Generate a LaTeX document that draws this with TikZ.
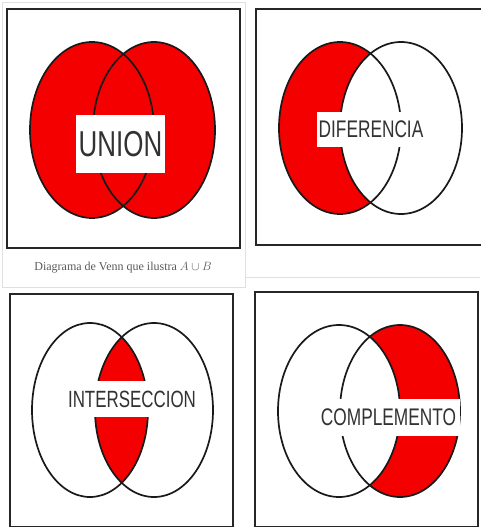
\documentclass[tikz,border=0pt]{standalone}
\usepackage{fontspec}
\newfontfamily\condsans[FakeStretch=0.72]{Liberation Sans}
\setmainfont{Liberation Serif}
\definecolor{vred}{RGB}{245,0,0}
\definecolor{labgray}{RGB}{50,50,50}
\definecolor{capgray}{RGB}{90,90,90}
\tikzset{
  frame/.style={draw=black!85, line width=2.8pt},
  setline/.style={draw=black!90, line width=1.7pt},
  labelbox/.style={fill=white, inner sep=0pt, text=labgray, font=\condsans},
  faint/.style={draw=black!12, line width=0.8pt}
}
\begin{document}
\begin{tikzpicture}[x=1pt,y=-1pt]
\useasboundingbox (0,0) rectangle (480,527);
\fill[white] (0,0) rectangle (480,527);

% faint image borders
\draw[faint] (2,2) rectangle (245,287);
\draw[faint] (245,2) -- (245,277) -- (480,277);

% ---------- Panel 1: UNION ----------
\draw[frame] (7,9) rectangle (240,248);
\fill[vred] (92,130) ellipse [x radius=62pt, y radius=88pt];
\fill[vred] (154,130) ellipse [x radius=61pt, y radius=88pt];
\draw[setline] (92,130) ellipse [x radius=62pt, y radius=88pt];
\draw[setline] (154,130) ellipse [x radius=61pt, y radius=88pt];
\node[labelbox, minimum width=89pt, minimum height=58pt, font=\condsans\fontsize{36}{36}\selectfont] (union) at (120.5,144) {UNION};
\node[text=capgray, inner sep=0pt, font=\fontsize{12}{14}\selectfont] (cap) at (123,268) {Diagrama de Venn que ilustra \large$A\cup B$};

% ---------- Panel 2: DIFERENCIA ----------
\draw[frame] (256,9) rectangle (490,245);
\fill[vred] (340,128) ellipse [x radius=61pt, y radius=86pt];
\fill[white] (401,128) ellipse [x radius=61pt, y radius=86pt];
\draw[setline] (340,128) ellipse [x radius=61pt, y radius=86pt];
\draw[setline] (401,128) ellipse [x radius=61pt, y radius=86pt];
\node[labelbox, minimum width=108pt, minimum height=35pt, font=\condsans\fontsize{24}{24}\selectfont] (dif) at (371,129.5) {DIFERENCIA};

% ---------- Panel 3: INTERSECCION ----------
\draw[frame] (10,294) rectangle (233,527);
\begin{scope}
  \clip (90,410) ellipse [x radius=58pt, y radius=87pt];
  \fill[vred] (154,410) ellipse [x radius=59pt, y radius=87pt];
\end{scope}
\draw[setline] (90,410) ellipse [x radius=58pt, y radius=87pt];
\draw[setline] (154,410) ellipse [x radius=59pt, y radius=87pt];
\node[labelbox, minimum width=133pt, minimum height=36pt, font=\condsans\fontsize{23.5}{24}\selectfont] (inter) at (132,399) {INTERSECCION};

% ---------- Panel 4: COMPLEMENTO ----------
\draw[frame] (255,292) rectangle (478,527);
\fill[vred] (400,411) ellipse [x radius=60pt, y radius=86pt];
\fill[white] (339,411) ellipse [x radius=61pt, y radius=86pt];
\draw[setline] (339,411) ellipse [x radius=61pt, y radius=86pt];
\draw[setline] (400,411) ellipse [x radius=60pt, y radius=86pt];
\node[labelbox, minimum width=143pt, minimum height=37pt, font=\condsans\fontsize{24}{24}\selectfont] (comp) at (388.5,417.5) {COMPLEMENTO};
\end{tikzpicture}
\end{document}
